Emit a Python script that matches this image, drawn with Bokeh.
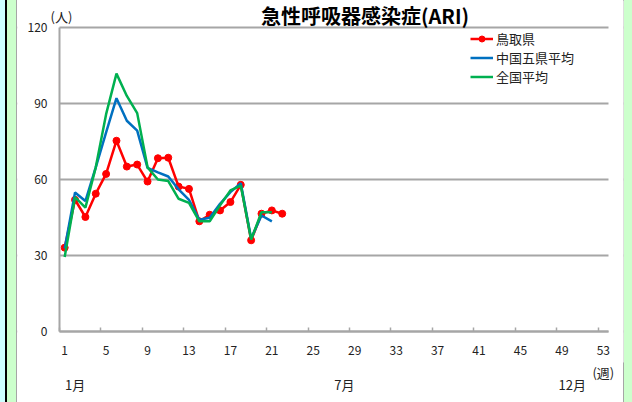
from bokeh.plotting import figure
from bokeh.models import (FixedTicker, Label, Legend, LegendItem, LinearAxis, Range1d, BoxAnnotation)
from bokeh.embed import file_html
from bokeh.resources import INLINE

# ---- data ----
weeks_tottori = list(range(1, 23))
tottori = [33.1, 52.0, 45.2, 54.4, 62.2, 75.3, 65.1, 65.9, 59.2, 68.4, 68.6,
           57.2, 56.3, 43.5, 46.1, 47.8, 51.1, 57.9, 36.0, 46.5, 47.8, 46.5]
weeks_avg = list(range(1, 22))
chugoku = [32.8, 54.9, 51.5, 64.8, 78.6, 92.1, 83.2, 79.3, 64.6, 62.8, 61.2,
           56.1, 52.0, 44.1, 44.9, 50.4, 55.0, 58.5, 36.7, 45.8, 43.5]
zenkoku = [29.4, 53.0, 48.9, 64.8, 85.8, 101.8, 93.0, 86.2, 64.8, 60.0, 59.4,
           52.4, 50.8, 43.5, 43.5, 49.8, 55.7, 57.6, 36.3, 47.1, 47.1]
series_names = ["鳥取県", "中国五県平均", "全国平均"]
x_ticks = list(range(1, 54, 4))
y_ticks = [0, 30, 60, 90, 120]
month_ticks = [2, 28, 50]
month_labels = ["1月", "7月", "12月"]
week_unit_tick = 53
week_unit = "(週)"
person_unit = "(人)"
title_text = "急性呼吸器感染症(ARI)"

FONT = "Noto Sans CJK JP"
GRAY = "#a6a6a6"
TXT = "#222222"
X0, X1 = 0.5, 53.5      # category axis extent (weeks)

p = figure(width=632, height=402, output_backend="svg", toolbar_location=None,
           x_range=Range1d(-3.5546, 54.948), y_range=Range1d(-12.237, 130.66),
           min_border_left=17, min_border_right=9, min_border_top=0, min_border_bottom=40)
p.outline_line_color = None
p.background_fill_color = "white"
p.border_fill_alpha = 0
p.styles = {"background": "linear-gradient(to right, #ccffff 0px, #ccffff 5px, #000000 5px, "
                          "#000000 7px, #ccffcc 7px, #ccffcc 16px, #a6a6a6 16px, #a6a6a6 17px, "
                          "#ffffff 17px, #ffffff 623px, #a6a6a6 623px, #a6a6a6 624px, "
                          "#ccffcc 624px, #ccffcc 632px)"}

# main x axis, drawn at value 0
p.xaxis.ticker = FixedTicker(ticks=x_ticks, minor_ticks=[t - 0.5 for t in x_ticks])
p.xaxis.fixed_location = 0
p.xaxis.bounds = (X0, X1)
p.xaxis.major_tick_line_color = None
p.xaxis.major_tick_in = 0
p.xaxis.major_tick_out = 0
p.xaxis.minor_tick_in = 4
p.xaxis.minor_tick_out = 0
p.xaxis.minor_tick_line_color = GRAY
p.xaxis.minor_tick_line_width = 1.5
p.xaxis.axis_line_color = GRAY
p.xaxis.axis_line_width = 2
p.xaxis.major_label_standoff = 14
# y axis, drawn at the start of the week axis
p.yaxis.ticker = FixedTicker(ticks=y_ticks)
p.yaxis.fixed_location = X0
p.yaxis.bounds = (0, 120)
p.yaxis.major_tick_line_color = None
p.yaxis.minor_tick_line_color = None
p.yaxis.major_tick_in = 0
p.yaxis.major_tick_out = 0
p.yaxis.axis_line_color = GRAY
p.yaxis.axis_line_width = 2
p.yaxis.major_label_standoff = 12
for ax in (p.xaxis, p.yaxis):
    ax.major_label_text_font = FONT
    ax.major_label_text_font_size = "12px"
    ax.major_label_text_color = TXT

# unit axis and month axis below
unit_axis = LinearAxis(ticker=FixedTicker(ticks=[week_unit_tick]),
                       major_label_overrides={week_unit_tick: week_unit},
                       major_label_standoff=0)
month_axis = LinearAxis(ticker=FixedTicker(ticks=month_ticks),
                        major_label_overrides=dict(zip(month_ticks, month_labels)),
                        major_label_standoff=-10)
for ax in (unit_axis, month_axis):
    ax.axis_line_color = None
    ax.major_tick_line_color = None
    ax.minor_tick_line_color = None
    ax.major_tick_in = 0
    ax.major_tick_out = 0
    ax.major_label_text_font = FONT
    ax.major_label_text_font_size = "13px"
    ax.major_label_text_color = TXT
    p.add_layout(ax, "below")

p.xgrid.visible = False
p.ygrid.ticker = FixedTicker(ticks=y_ticks)
p.ygrid.grid_line_color = GRAY
p.ygrid.grid_line_width = 2
# keep the area outside the week axis white (hides grid there)
p.add_layout(BoxAnnotation(right=X0, fill_color="white", fill_alpha=1, line_color=None,
                           level="underlay"))
p.add_layout(BoxAnnotation(left=X1, fill_color="white", fill_alpha=1, line_color=None,
                           level="underlay"))

# series
r1 = p.line(weeks_tottori, tottori, line_color="#ff0000", line_width=2.5)
r1m = p.scatter(weeks_tottori, tottori, size=7, fill_color="#ff0000", line_color="#ff0000")
r2 = p.line(weeks_avg, chugoku, line_color="#0070c0", line_width=2.5)
r3 = p.line(weeks_avg, zenkoku, line_color="#00b050", line_width=2.5)

legend = Legend(items=[LegendItem(label=series_names[0], renderers=[r1, r1m]),
                       LegendItem(label=series_names[1], renderers=[r2]),
                       LegendItem(label=series_names[2], renderers=[r3])],
                location=(453, 276), label_text_font=FONT, label_text_font_size="13px",
                label_text_color=TXT, glyph_width=23, glyph_height=15, label_height=15,
                spacing=0, padding=2, margin=0, label_standoff=3,
                border_line_color=None, background_fill_alpha=0)
p.add_layout(legend)

# texts inside the plot area
p.add_layout(Label(x=30.0, y=124.93, text=title_text, text_align="center", text_baseline="middle",
                   text_font=FONT, text_font_size="20px", text_font_style="bold", text_color="black"))
p.add_layout(Label(x=0.69, y=124.3, text=person_unit, text_align="center", text_baseline="middle",
                   text_font=FONT, text_font_size="13px", text_color=TXT))

open("out.html", "w").write(file_html(p, INLINE))
